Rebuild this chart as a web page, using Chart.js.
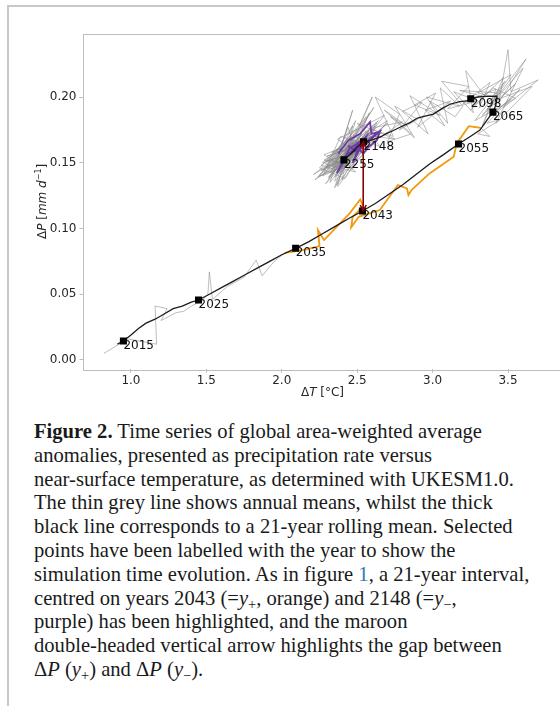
<!DOCTYPE html>
<html>
<head>
<meta charset="utf-8">
<script src="https://cdn.jsdelivr.net/npm/chart.js@4.4.0/dist/chart.umd.min.js"></script>
<style>
  html, body { margin: 0; padding: 0; width: 560px; height: 706px; overflow: hidden; background: #fff; }
  #frame { position: absolute; left: 7px; top: 5px; width: 620px; height: 720px;
           border-left: 2px solid #c8c8c8; border-top: 2px solid #c8c8c8; }
  #plot { position: absolute; left: 0; top: 0; }
  #caption { position: absolute; left: 34px; top: 420px; font-family: "Liberation Serif", serif;
             font-size: 20.6px; line-height: 23.8px; color: #1a1a1a; white-space: nowrap; }
  #caption sub { font-size: 0.7em; vertical-align: -0.3em; line-height: 0; }
  #caption .ref { color: #2b7bb9; }
</style>
</head>
<body>
<div id="frame"></div>
<canvas id="plot" width="570" height="400"></canvas>
<div id="caption"><b>Figure 2.</b> Time series of global area-weighted average<br>anomalies, presented as precipitation rate versus<br>near-surface temperature, as determined with UKESM1.0.<br>The thin grey line shows annual means, whilst the thick<br>black line corresponds to a 21-year rolling mean. Selected<br>points have been labelled with the year to show the<br>simulation time evolution. As in figure <span class="ref">1</span>, a 21-year interval,<br>centred on years 2043 (=<i>y</i><sub>+</sub>, orange) and 2148 (=<i>y</i><sub>−</sub>,<br>purple) has been highlighted, and the maroon<br>double-headed vertical arrow highlights the gap between<br>Δ<i>P</i> (<i>y</i><sub>+</sub>) and Δ<i>P</i> (<i>y</i><sub>−</sub>).</div>
<script>
// annual means, one value per year starting at firstYear
const firstYear = 2015;
const annualT = [
  0.82, 0.98, 1.17, 1.16, 1.24, 1.20, 1.30, 1.35, 1.40, 1.47,   // 2015
  1.51, 1.52, 1.54, 1.64, 1.75, 1.83, 1.87, 1.95, 2.02, 2.14,   // 2025
  2.25, 2.24, 2.28, 2.45, 2.52, 2.54, 2.47, 2.46, 2.51, 2.65,   // 2035
  2.77, 2.83, 2.84, 2.86, 2.98, 3.14, 3.16, 3.24, 3.32, 3.38,   // 2045
  3.30, 3.45, 3.36, 3.52, 3.41, 3.58, 3.47, 3.70, 3.52, 3.50,   // 2055
  3.44, 3.62, 3.46, 3.33, 3.55, 3.38, 3.60, 3.42, 3.66, 3.45,   // 2065
  3.30, 3.52, 3.36, 3.48, 3.28, 3.55, 3.40, 3.25, 3.47, 3.33,   // 2075
  3.42, 3.20, 3.38, 3.31, 3.45, 3.18, 3.35, 3.22, 3.27, 3.14,   // 2085
  3.30, 3.10, 3.24, 3.06, 3.20, 3.15, 2.98, 3.10, 3.05, 3.18,   // 2095
  2.96, 3.08, 2.95, 3.12, 2.90, 3.02, 2.88, 3.05, 2.85, 2.97,   // 2105
  2.80, 2.93, 2.78, 2.90, 2.75, 2.88, 2.72, 2.83, 2.68, 2.86,   // 2115
  2.70, 2.78, 2.62, 2.74, 2.58, 2.80, 2.60, 2.70, 2.55, 2.75,   // 2125
  2.50, 2.66, 2.48, 2.375, 2.44, 2.52, 2.585, 2.595, 2.65, 2.63, // 2135
  2.575, 2.54, 2.50, 2.43, 2.385, 2.365, 2.45, 2.53, 2.47, 2.56, // 2145
  2.40, 2.66, 2.50, 2.44, 2.30, 2.55, 2.35, 2.62, 2.42, 2.28,   // 2155
  2.50, 2.36, 2.58, 2.44, 2.25, 2.48, 2.39, 2.66, 2.33, 2.52,   // 2165
  2.22, 2.46, 2.60, 2.40, 2.30, 2.55, 2.37, 2.47, 2.34, 2.58,   // 2175
  2.26, 2.45, 2.70, 2.41, 2.31, 2.53, 2.38, 2.49, 2.29, 2.56,   // 2185
  2.43, 2.35, 2.60, 2.39, 2.27, 2.50, 2.44, 2.33, 2.64, 2.40,   // 2195
  2.21, 2.52, 2.36, 2.47, 2.32, 2.57, 2.42, 2.28, 2.54, 2.38,   // 2205
  2.62, 2.45, 2.30, 2.49, 2.35, 2.55, 2.41, 2.24, 2.51, 2.37,   // 2215
  2.68, 2.43, 2.32, 2.58, 2.40, 2.46, 2.27, 2.53, 2.39, 2.61,   // 2225
  2.34, 2.48, 2.30, 2.56, 2.42, 2.25, 2.50, 2.38, 2.59, 2.44,   // 2235
  2.29, 2.53, 2.36, 2.47, 2.33, 2.63, 2.40, 2.26, 2.51, 2.37,   // 2245
  2.45, 2.31, 2.55, 2.41, 2.34, 2.49, 2.28, 2.43, 2.58, 2.39, 2.35 // 2255
];
const annualP = [
  0.005, 0.016, 0.012, 0.041, 0.039, 0.030, 0.036, 0.037, 0.041, 0.045,
  0.050, 0.067, 0.046, 0.056, 0.063, 0.076, 0.064, 0.075, 0.0815, 0.0836,
  0.0866, 0.0988, 0.0912, 0.1115, 0.1221, 0.1170, 0.1089, 0.1008, 0.1089, 0.1140,
  0.1330, 0.1305, 0.1254, 0.1292, 0.1419, 0.1545, 0.1647, 0.1778, 0.1765, 0.170,
  0.172, 0.183, 0.180, 0.199, 0.188, 0.206, 0.192, 0.213, 0.204, 0.236,
  0.196, 0.229, 0.205, 0.186, 0.210, 0.193, 0.222, 0.180, 0.208, 0.199,
  0.203, 0.217, 0.190, 0.212, 0.182, 0.199, 0.207, 0.190, 0.215, 0.178,
  0.206, 0.195, 0.211, 0.192, 0.203, 0.205, 0.200, 0.220, 0.188, 0.204,
  0.197, 0.191, 0.208, 0.212, 0.193, 0.185, 0.197, 0.180, 0.207, 0.193,
  0.200, 0.178, 0.190, 0.197, 0.177, 0.203, 0.194, 0.186, 0.201, 0.172,
  0.189, 0.196, 0.175, 0.183, 0.193, 0.169, 0.185, 0.178, 0.190, 0.172,
  0.166, 0.187, 0.200, 0.170, 0.176, 0.181, 0.165, 0.182, 0.171, 0.168,
  0.180, 0.162, 0.170, 0.157, 0.167, 0.172, 0.181, 0.172, 0.1735, 0.167,
  0.162, 0.157, 0.162, 0.1545, 0.146, 0.142, 0.161, 0.167, 0.150, 0.170,
  0.152, 0.175, 0.158, 0.163, 0.145, 0.170, 0.139, 0.178, 0.150, 0.152,
  0.166, 0.133, 0.188, 0.148, 0.140, 0.172, 0.144, 0.173, 0.158, 0.160,
  0.137, 0.165, 0.200, 0.146, 0.152, 0.158, 0.132, 0.178, 0.147, 0.167,
  0.144, 0.155, 0.180, 0.151, 0.138, 0.172, 0.155, 0.143, 0.149, 0.185,
  0.160, 0.136, 0.163, 0.170, 0.140, 0.152, 0.177, 0.145, 0.182, 0.158,
  0.141, 0.163, 0.150, 0.190, 0.135, 0.172, 0.146, 0.156, 0.168, 0.141,
  0.176, 0.153, 0.147, 0.182, 0.131, 0.161, 0.164, 0.139, 0.156, 0.168,
  0.186, 0.149, 0.143, 0.175, 0.137, 0.170, 0.150, 0.159, 0.154, 0.192,
  0.142, 0.162, 0.155, 0.165, 0.138, 0.146, 0.176, 0.149, 0.170, 0.157,
  0.134, 0.164, 0.160, 0.145, 0.152, 0.180, 0.143, 0.148, 0.168, 0.153,
  0.161, 0.139, 0.171, 0.150, 0.146, 0.166, 0.142, 0.157, 0.175, 0.148, 0.152
];

// 21-year rolling mean
const meanT = [0.91, 0.95, 1.00, 1.05, 1.10, 1.16, 1.22, 1.28, 1.34, 1.40, 1.448, 1.52, 1.60, 1.68,
  1.76, 1.84, 1.92, 2.00, 2.092, 2.18, 2.27, 2.36, 2.45, 2.535, 2.62, 2.71, 2.80, 2.89, 2.98, 3.07,
  3.172, 3.25, 3.314, 3.369, 3.40, 3.42, 3.427, 3.35, 3.30, 3.253, 3.226, 3.18, 3.115, 3.06, 3.005,
  2.95, 2.90, 2.85, 2.784, 2.74, 2.696, 2.66, 2.629, 2.59, 2.542, 2.50, 2.45, 2.49, 2.42, 2.46, 2.412];
const meanP = [0.012, 0.0144, 0.019, 0.024, 0.028, 0.031, 0.035, 0.039, 0.041, 0.044, 0.0456, 0.050, 0.055, 0.060,
  0.065, 0.070, 0.075, 0.080, 0.0849, 0.090, 0.096, 0.102, 0.108, 0.1133, 0.119, 0.126, 0.133, 0.141, 0.149, 0.156,
  0.1642, 0.170, 0.1749, 0.1837, 0.1885, 0.194, 0.2007, 0.2005, 0.200, 0.1987, 0.197, 0.1965, 0.1945, 0.191, 0.187,
  0.1855, 0.184, 0.1805, 0.177, 0.1745, 0.1723, 0.170, 0.1685, 0.167, 0.166, 0.162, 0.156, 0.160, 0.153, 0.157, 0.1522];

// labelled years on the rolling mean
const labelYears = [2015, 2025, 2035, 2043, 2055, 2065, 2098, 2148, 2255];
const labelT = [0.95, 1.448, 2.092, 2.535, 3.172, 3.40, 3.253, 2.542, 2.412];
const labelP = [0.0144, 0.0456, 0.0849, 0.1133, 0.1642, 0.1885, 0.1987, 0.166, 0.1522];

const plusYears = [2033, 2053];   // centred on 2043 (y+)
const minusYears = [2138, 2158];  // centred on 2148 (y-)
const arrowT = 2.54;
const arrowP = [0.1133, 0.166];

const xTicks = [1.0, 1.5, 2.0, 2.5, 3.0, 3.5];
const yTicks = [0.00, 0.05, 0.10, 0.15, 0.20];

const toPoints = (xs, ys) => xs.map((x, i) => ({ x: x, y: ys[i] }));
const annual = toPoints(annualT, annualP);
const yearSpan = r => annual.slice(r[0] - firstYear, r[1] - firstYear + 1);

const tickFont = { family: 'DejaVu Sans', size: 12 };

function drawRich(ctx, parts, x, y) {
  const fonts = parts.map(p => p[1] === 'sup' ? '8px "DejaVu Sans"' :
    (p[1] === 'i' ? 'italic 12px "DejaVu Sans"' : '12px "DejaVu Sans"'));
  let w = 0;
  parts.forEach((p, i) => { ctx.font = fonts[i]; w += ctx.measureText(p[0]).width; });
  let cx = x - w / 2;
  ctx.textBaseline = 'middle';
  ctx.textAlign = 'left';
  parts.forEach((p, i) => {
    ctx.font = fonts[i];
    ctx.fillText(p[0], cx, p[1] === 'sup' ? y - 4 : y);
    cx += ctx.measureText(p[0]).width;
  });
}

const decor = {
  id: 'decor',
  afterDatasetsDraw(chart) {
    const { ctx, scales: { x, y } } = chart;
    ctx.save();
    // gap arrow
    const ax = x.getPixelForValue(arrowT);
    const y1 = y.getPixelForValue(arrowP[0]);
    const y2 = y.getPixelForValue(arrowP[1]);
    ctx.strokeStyle = '#8b0000';
    ctx.lineWidth = 1.6;
    ctx.beginPath();
    ctx.moveTo(ax, y1); ctx.lineTo(ax, y2);
    ctx.moveTo(ax - 3, y1 - 6); ctx.lineTo(ax, y1); ctx.lineTo(ax + 3, y1 - 6);
    ctx.moveTo(ax - 3, y2 + 6); ctx.lineTo(ax, y2); ctx.lineTo(ax + 3, y2 + 6);
    ctx.stroke();
    // year labels
    ctx.fillStyle = '#111';
    ctx.font = '12px "DejaVu Sans"';
    ctx.textAlign = 'left';
    ctx.textBaseline = 'top';
    labelYears.forEach((yr, i) => {
      ctx.fillText(String(yr), x.getPixelForValue(labelT[i]), y.getPixelForValue(labelP[i]) - 1);
    });
    ctx.restore();
  },
  afterDraw(chart) {
    const { ctx, chartArea: a } = chart;
    ctx.save();
    ctx.strokeStyle = '#bdbdbd';
    ctx.lineWidth = 1;
    ctx.strokeRect(Math.round(a.left) + 0.5, Math.round(a.top) + 0.5,
      Math.round(a.right - a.left), Math.round(a.bottom - a.top));
    ctx.fillStyle = '#262626';
    drawRich(ctx, [['Δ', ''], ['T', 'i'], [' [°C]', '']], (a.left + a.right) / 2, 393);
    ctx.translate(43, (a.top + a.bottom) / 2);
    ctx.rotate(-Math.PI / 2);
    drawRich(ctx, [['Δ', ''], ['P', 'i'], [' [', ''], ['mm d', 'i'], ['−1', 'sup'], [']', '']], 0, 0);
    ctx.restore();
  }
};

new Chart(document.getElementById('plot').getContext('2d'), {
  type: 'scatter',
  data: {
    datasets: [
      { data: toPoints(labelT, labelP), showLine: false, pointStyle: 'rect', pointRadius: 5,
        backgroundColor: '#000', borderWidth: 0, order: 1 },
      { data: toPoints(meanT, meanP), showLine: true, borderColor: '#1c1c1c', borderWidth: 1.3,
        pointRadius: 0, order: 2 },
      { data: yearSpan(minusYears), showLine: true, borderColor: '#6d3aa6', borderWidth: 1.8,
        pointRadius: 0, order: 3 },
      { data: yearSpan(plusYears), showLine: true, borderColor: '#f59a0c', borderWidth: 1.8,
        pointRadius: 0, order: 4 },
      { data: annual, showLine: true, borderColor: 'rgba(135,135,135,0.55)', borderWidth: 1,
        pointRadius: 0, order: 5 }
    ]
  },
  options: {
    responsive: false,
    animation: false,
    devicePixelRatio: 1,
    layout: { padding: { left: 0, right: 8, top: 33.5, bottom: 0 } },
    plugins: { legend: { display: false }, tooltip: { enabled: false } },
    scales: {
      x: {
        type: 'linear', min: 0.682, max: 3.858,
        afterBuildTicks: s => { s.ticks = xTicks.map(v => ({ value: v })); },
        afterFit: s => { s.height = 30.7; },
        grid: { display: true, drawOnChartArea: false, drawTicks: true, tickLength: 3.5, color: '#bdbdbd' },
        border: { display: false },
        ticks: { font: tickFont, color: '#262626', padding: 1, maxRotation: 0,
                 callback: v => v.toFixed(1) }
      },
      y: {
        type: 'linear', min: -0.0071, max: 0.2483,
        afterBuildTicks: s => { s.ticks = yTicks.map(v => ({ value: v })); },
        afterFit: s => { s.width = 83; },
        grid: { display: true, drawOnChartArea: false, drawTicks: true, tickLength: 3.5, color: '#bdbdbd' },
        border: { display: false },
        ticks: { font: tickFont, color: '#262626', padding: 3, callback: v => v.toFixed(2) }
      }
    }
  },
  plugins: [decor]
});
</script>
</body>
</html>
